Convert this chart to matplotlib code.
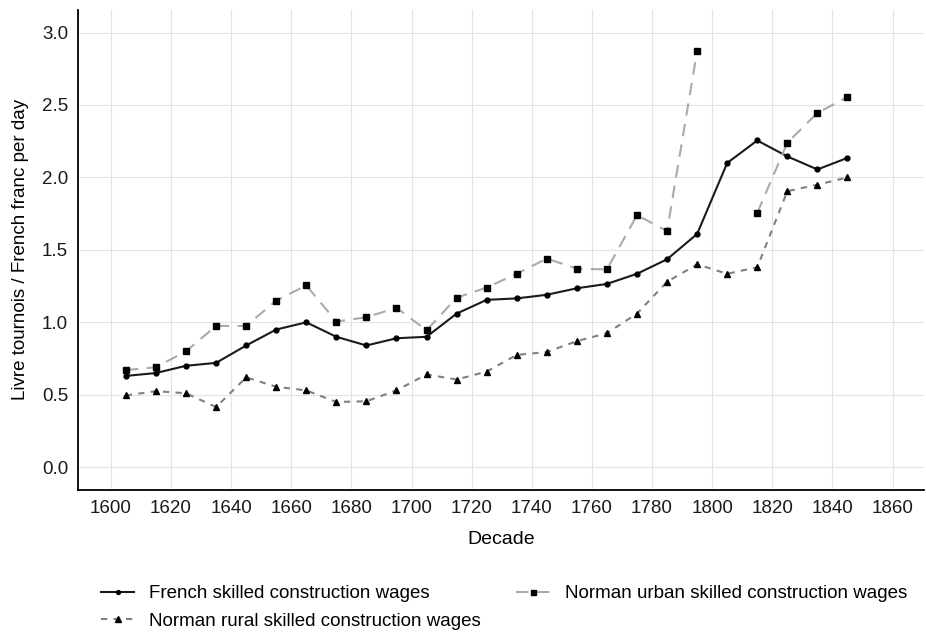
import matplotlib.pyplot as plt
import numpy as np

plt.rcParams['font.family'] = ['Liberation Sans', 'DejaVu Sans']

decades = list(range(1605, 1850, 10))

french = [0.63, 0.65, 0.70, 0.72, 0.84, 0.95, 1.00, 0.90, 0.84, 0.89, 0.90,
          1.06, 1.155, 1.165, 1.19, 1.235, 1.265, 1.335, 1.435, 1.61, 2.10,
          2.255, 2.145, 2.055, 2.135]

urban = [0.67, 0.69, 0.80, 0.975, 0.975, 1.15, 1.255, 1.005, 1.035, 1.10, 0.945,
         1.17, 1.24, 1.335, 1.44, 1.37, 1.365, 1.74, 1.63, 2.875, np.nan,
         1.755, 2.24, 2.445, 2.555]

rural = [0.495, 0.525, 0.51, 0.415, 0.62, 0.555, 0.53, 0.45, 0.455, 0.53, 0.64,
         0.605, 0.66, 0.775, 0.795, 0.87, 0.925, 1.06, 1.28, 1.40, 1.335,
         1.38, 1.905, 1.95, 2.00]

fig, ax = plt.subplots(figsize=(9.26, 6.35), dpi=100)
fig.subplots_adjust(left=0.084, right=0.998, top=0.985, bottom=0.228)

l1, = ax.plot(decades, french, color='#1a1a1a', lw=1.5, marker='o', ms=3.5,
              mfc='black', mec='black', label='French skilled construction wages')
l2, = ax.plot(decades, urban, color='#aaaaaa', lw=1.5, ls=(0, (6, 4)), marker='s', ms=4.5,
              mfc='black', mec='black', label='Norman urban skilled construction wages')
l3, = ax.plot(decades, rural, color='#808080', lw=1.5, ls=(0, (3, 3)), marker='^', ms=5,
              mfc='black', mec='black', label='Norman rural skilled construction wages')

ax.set_xlim(1589, 1870.5)
ax.set_ylim(-0.159, 3.159)
ax.set_xticks(range(1600, 1861, 20))
ax.set_yticks(np.arange(0, 3.01, 0.5))
ax.set_yticklabels(['%.1f' % v for v in np.arange(0, 3.01, 0.5)])
ax.grid(True, color='#e3e3e3', lw=0.8)
ax.set_axisbelow(True)

for s in ['top', 'right']:
    ax.spines[s].set_visible(False)
for s in ['left', 'bottom']:
    ax.spines[s].set_color('black')
    ax.spines[s].set_linewidth(1.3)
ax.tick_params(length=0, pad=7, labelsize=13.5, labelcolor='#1a1a1a')

ax.set_xlabel('Decade', fontsize=14, labelpad=10)
ax.set_ylabel('Livre tournois / French franc per day', fontsize=13.5, labelpad=9)

fig.legend(handles=[l1, l3, l2], loc='lower center', ncol=2, frameon=False,
           fontsize=13.5, bbox_to_anchor=(0.544, -0.018), handlelength=1.8,
           handletextpad=0.8, columnspacing=1.85, markerscale=0.8, labelspacing=0.55)

plt.savefig('out.png')
